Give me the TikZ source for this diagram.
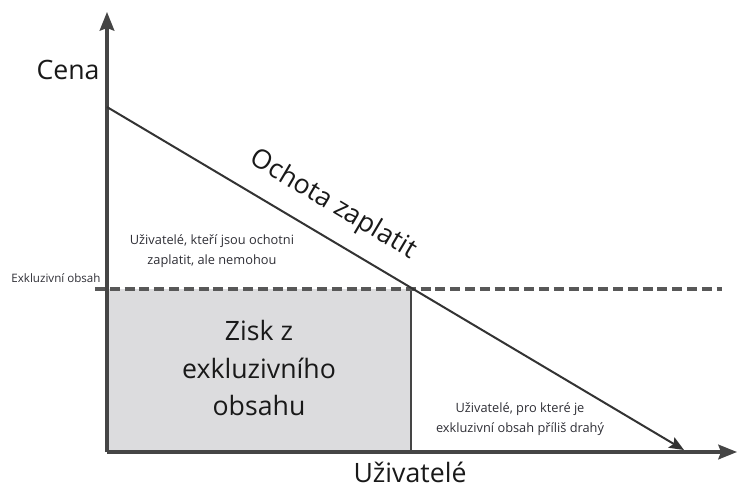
\documentclass[tikz,border=0pt]{standalone}
\usepackage{fontspec}
\setmainfont{Open Sans}
\usetikzlibrary{arrows.meta}
\definecolor{axisgray}{HTML}{454545}
\definecolor{linegray}{HTML}{333333}
\definecolor{areagray}{HTML}{DCDCDE}
\definecolor{textgray}{HTML}{2E2E35}
\tikzset{
	axisline/.style={line width=2.3pt, draw=axisgray, -{Stealth[length=14pt,width=11pt,inset=2pt]}},
	demandline/.style={line width=1.5pt, draw=linegray, -{Stealth[length=11pt,width=9pt,inset=2pt]}},
	bigtext/.style={font=\fontsize{20}{28}\selectfont, text=black!90, align=center},
	smalltext/.style={font=\fontsize{9.6}{15}\selectfont, text=textgray, align=center},
}
\begin{document}
\begin{tikzpicture}[x=0.75pt,y=-0.75pt]
\useasboundingbox (0,0) rectangle (738,486);
% profit area
\fill[areagray] (107,289) rectangle (411,452);
\draw[line width=1.5pt, draw=axisgray] (411,289) -- (411,452);
% price of exclusive content
\draw[line width=2.3pt, draw=axisgray!90, dash pattern=on 7.5pt off 3.6pt] (95,289) -- (722,289);
% axes
\coordinate (origin) at (107,452);
\coordinate (ytop) at (107,12);
\coordinate (xend) at (737,452);
\draw[axisline] (origin) -- (ytop);
\draw[axisline] (origin) -- (xend);
% willingness to pay
\coordinate (dstart) at (107,107);
\coordinate (dend) at (684,450);
\draw[demandline] (dstart) -- (dend);
\node[bigtext] (cena) at (68,70) {Cena};
\node[bigtext] (uzivatele) at (410,472) {Uživatelé};
\node[bigtext, rotate=-30.7] (ochota) at (333,205) {Ochota zaplatit};
\node[bigtext] (zisk) at (259,368) {Zisk z\\exkluzivního\\obsahu};
\node[smalltext, font=\fontsize{8.7}{13}\selectfont] (exobsah) at (56,278) {Exkluzivní obsah};
\node[smalltext] (nemohou) at (212,251) {Uživatelé, kteří jsou ochotni\\zaplatit, ale nemohou};
\node[smalltext] (drahy) at (520,419) {Uživatelé, pro které je\\exkluzivní obsah příliš drahý};
\end{tikzpicture}
\end{document}
